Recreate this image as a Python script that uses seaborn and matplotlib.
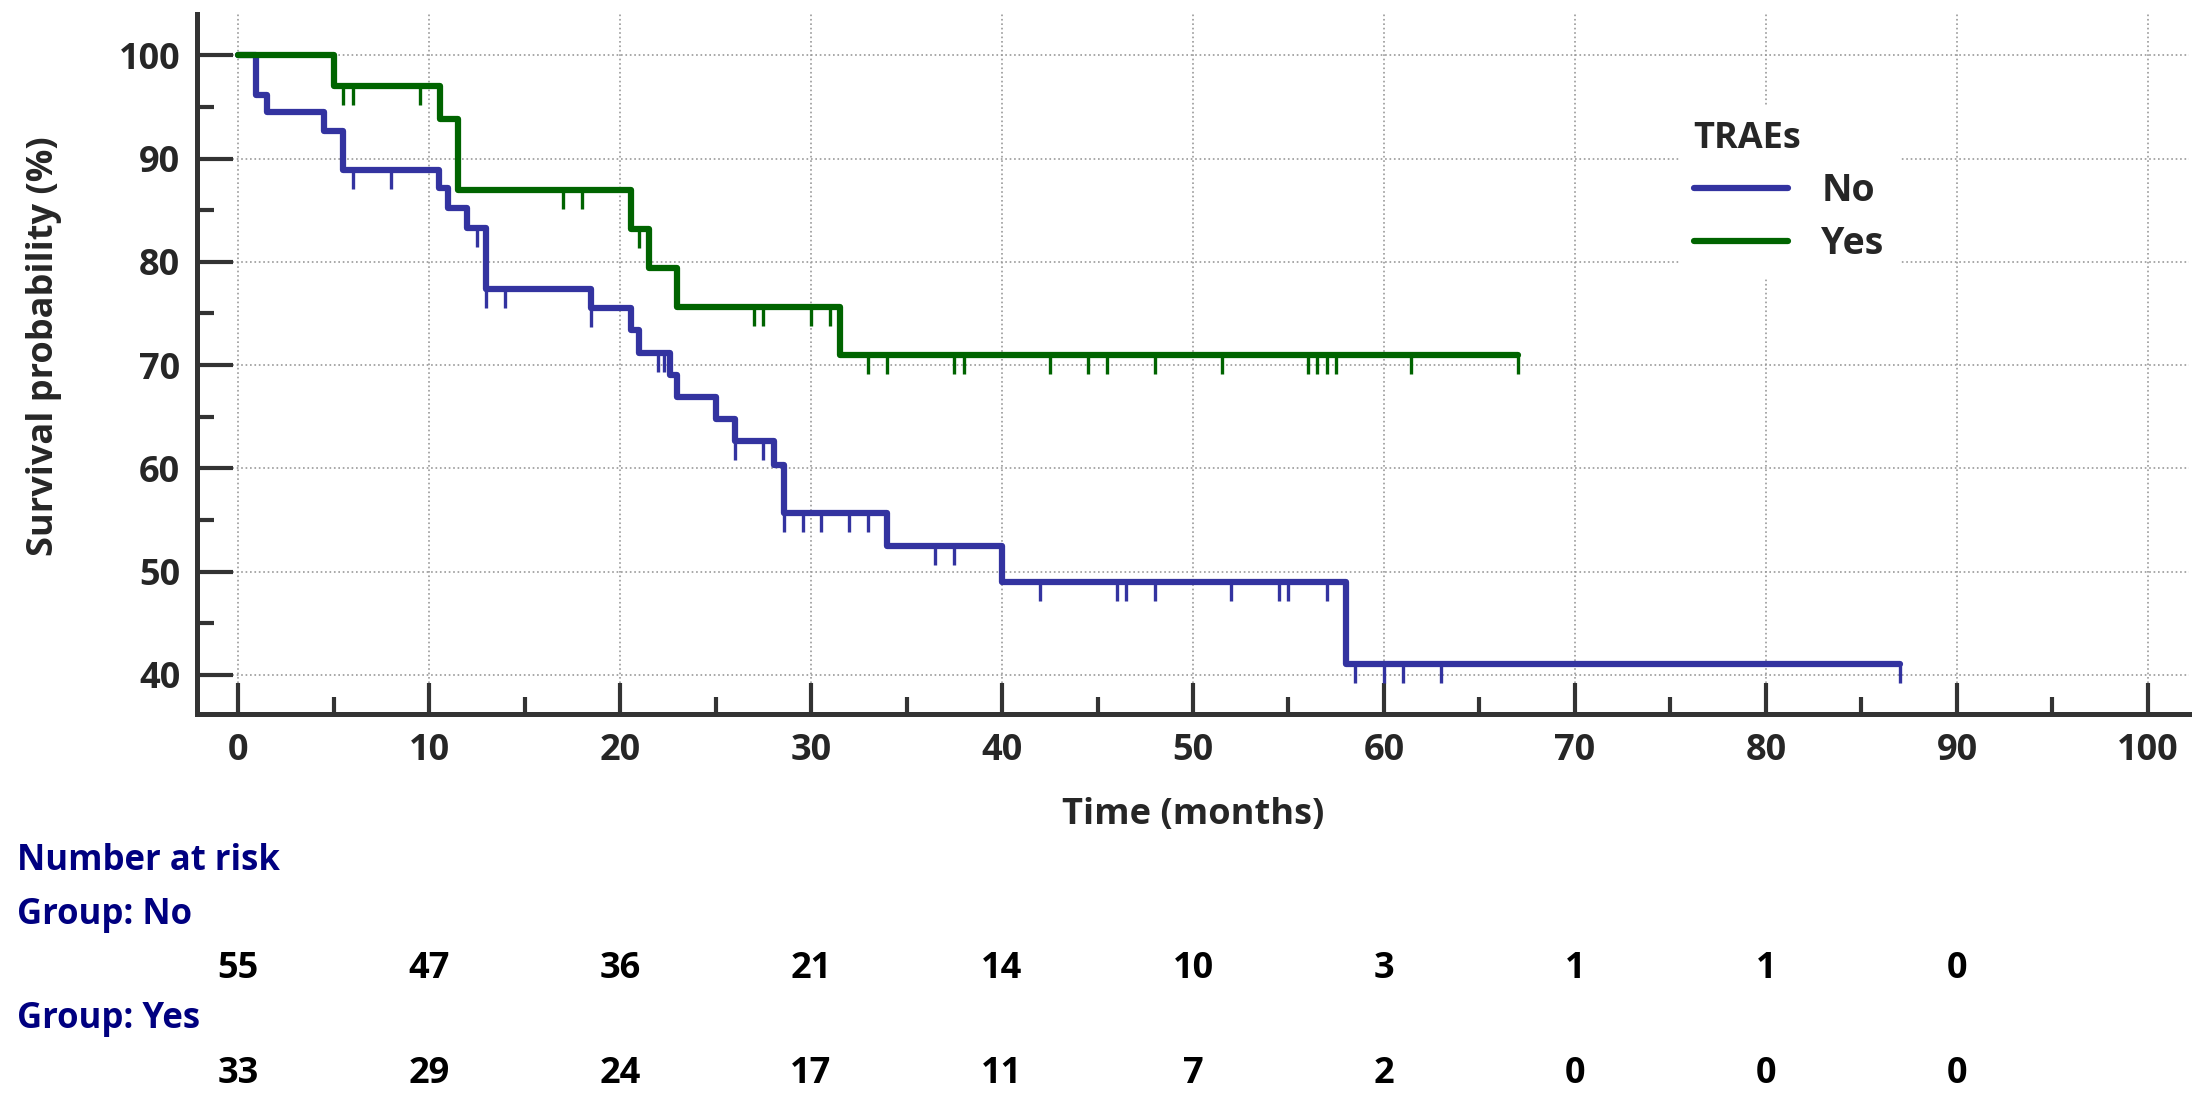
import numpy as np
import pandas as pd
import matplotlib
matplotlib.use("Agg")
import matplotlib.pyplot as plt
import seaborn as sns
from matplotlib.lines import Line2D
from matplotlib.ticker import MultipleLocator
from matplotlib import transforms

# ─────────────────────────────────────────────
# Data (Kaplan-Meier, TRAEs No / Yes)
# ─────────────────────────────────────────────

groups = ["No", "Yes"]

event_times_no = [0.96, 1.5, 4.5, 5.5, 10.5, 11.0, 12.0, 13.0, 18.5, 20.6, 21.0,
                  22.6, 23.0, 25.0, 26.0, 28.05, 28.6, 34.0, 40.0, 58.0]
surv_no = [96.2, 94.5, 92.7, 88.9, 87.1, 85.2, 83.3, 77.4, 75.5, 73.4, 71.2,
           69.0, 66.9, 64.8, 62.6, 60.3, 55.7, 52.5, 49.0, 41.0]
censor_no = [6.0, 8.0, 12.5, 13.0, 14.0, 18.5, 22.0, 22.3, 26.0, 27.5, 28.6,
             29.6, 30.5, 32.0, 33.0, 36.5, 37.5, 42.0, 46.0, 46.5, 48.0, 52.0,
             54.5, 55.0, 57.0, 58.5, 60.0, 61.0, 63.0, 87.0]

event_times_yes = [5.0, 10.55, 11.5, 20.56, 21.5, 23.0, 31.5]
surv_yes = [97.0, 93.8, 87.0, 83.2, 79.4, 75.6, 71.0]
censor_yes = [5.5, 6.0, 9.5, 17.0, 18.0, 21.0, 27.0, 27.5, 30.0, 31.0, 33.0,
              34.0, 37.5, 38.0, 42.5, 44.5, 45.5, 48.0, 51.5, 56.0, 56.5, 57.0,
              57.5, 61.4, 67.0]

risk_times = [0, 10, 20, 30, 40, 50, 60, 70, 80, 90]
risk_no = [55, 47, 36, 21, 14, 10, 3, 1, 1, 0]
risk_yes = [33, 29, 24, 17, 11, 7, 2, 0, 0, 0]

colors = {"No": "#3333A0", "Yes": "#006400"}
navy = "#000080"

# ─────────────────────────────────────────────
# Style
# ─────────────────────────────────────────────

sns.set_theme(style="white")
plt.rcParams["font.family"] = ["Open Sans", "DejaVu Sans"]
plt.rcParams["font.weight"] = "bold"

FS = 26


def step_frame(name, times, surv, censor):
    t = [0.0] + list(times) + [max(censor)]
    s = [100.0] + list(surv) + [surv[-1]]
    return pd.DataFrame({"time": t, "surv": s, "group": name})


def surv_at(times, surv, t):
    idx = np.searchsorted(np.array(times), np.array(t), side="right")
    vals = np.concatenate([[100.0], surv])
    return vals[idx]


df = pd.concat([
    step_frame("No", event_times_no, surv_no, censor_no),
    step_frame("Yes", event_times_yes, surv_yes, censor_yes),
], ignore_index=True)

fig = plt.figure(figsize=(22.07, 11.05), dpi=100)
ax = fig.add_axes([197 / 2207, 1 - 714 / 1105, (2189 - 197) / 2207, (714 - 14) / 1105])

sns.lineplot(data=df, x="time", y="surv", hue="group", palette=colors,
             drawstyle="steps-post", estimator=None, sort=False,
             lw=4.5, ax=ax, legend=False)

for name, et, sv, cs in [("No", event_times_no, surv_no, censor_no),
                         ("Yes", event_times_yes, surv_yes, censor_yes)]:
    ax.plot(cs, surv_at(et, sv, cs), ls="none", marker=3, ms=14, mew=2.4,
            color=colors[name])

# axes
ax.set_xlim(-2.15, 102.15)
ax.set_ylim(36.2, 104.0)
ax.xaxis.set_minor_locator(MultipleLocator(5))
ax.yaxis.set_minor_locator(MultipleLocator(5))
ax.set_yticks(np.arange(40, 101, 10))
ax.set_xticks(np.arange(0, 101, 10))

ax.grid(True, which="major", ls=":", color="#9a9a9a", lw=1.2)
ax.set_axisbelow(True)

for side in ["top", "right"]:
    ax.spines[side].set_visible(False)
for side in ["left", "bottom"]:
    ax.spines[side].set_color("#333333")
    ax.spines[side].set_linewidth(3.6)

ax.tick_params(axis="both", which="major", direction="in", length=26, width=3,
               color="#333333", labelsize=FS, pad=12)
ax.tick_params(axis="both", which="minor", direction="in", length=12, width=3,
               color="#333333")
ax.tick_params(axis="x", which="major", length=22, pad=14)
ax.tick_params(axis="both", which="both", bottom=True, left=True)
for lab in ax.get_xticklabels() + ax.get_yticklabels():
    lab.set_fontweight("bold")

ax.set_xlabel("Time (months)", fontsize=26, fontweight="bold", labelpad=20)
ax.set_ylabel("Survival probability (%)", fontsize=26, fontweight="bold")
ax.yaxis.set_label_coords(-0.068, 0.526)

# legend
handles = [Line2D([0], [0], color=colors[g], lw=4.5) for g in groups]
leg = ax.legend(handles, groups, title="TRAEs", loc="upper left",
                bbox_to_anchor=(1660 / 2207, 1 - 87 / 1105),
                bbox_transform=fig.transFigure,
                fontsize=FS + 1, title_fontsize=FS, frameon=True,
                facecolor="white", edgecolor="white", framealpha=1,
                handlelength=2.5, handletextpad=0.9, labelspacing=0.4,
                borderpad=0.4, alignment="left")
leg.get_title().set_fontweight("bold")
for t in leg.get_texts():
    t.set_fontweight("bold")

# number at risk table
RFS = 25
fig.text(17 / 2207, 1 - 861 / 1105, "Number at risk", color=navy, fontsize=RFS,
         fontweight="bold", va="center", ha="left")
fig.text(17 / 2207, 1 - 915 / 1105, "Group: No", color=navy, fontsize=RFS,
         fontweight="bold", va="center", ha="left")
fig.text(17 / 2207, 1 - 1019 / 1105, "Group: Yes", color=navy, fontsize=RFS,
         fontweight="bold", va="center", ha="left")

blend = transforms.blended_transform_factory(ax.transData, fig.transFigure)
for t, n in zip(risk_times, risk_no):
    ax.text(t, 1 - 969 / 1105, str(n), transform=blend, fontsize=FS,
            fontweight="bold", ha="center", va="center", color="black", clip_on=False)
for t, n in zip(risk_times, risk_yes):
    ax.text(t, 1 - 1074 / 1105, str(n), transform=blend, fontsize=FS,
            fontweight="bold", ha="center", va="center", color="black", clip_on=False)

fig.savefig("out.png", dpi=100)
